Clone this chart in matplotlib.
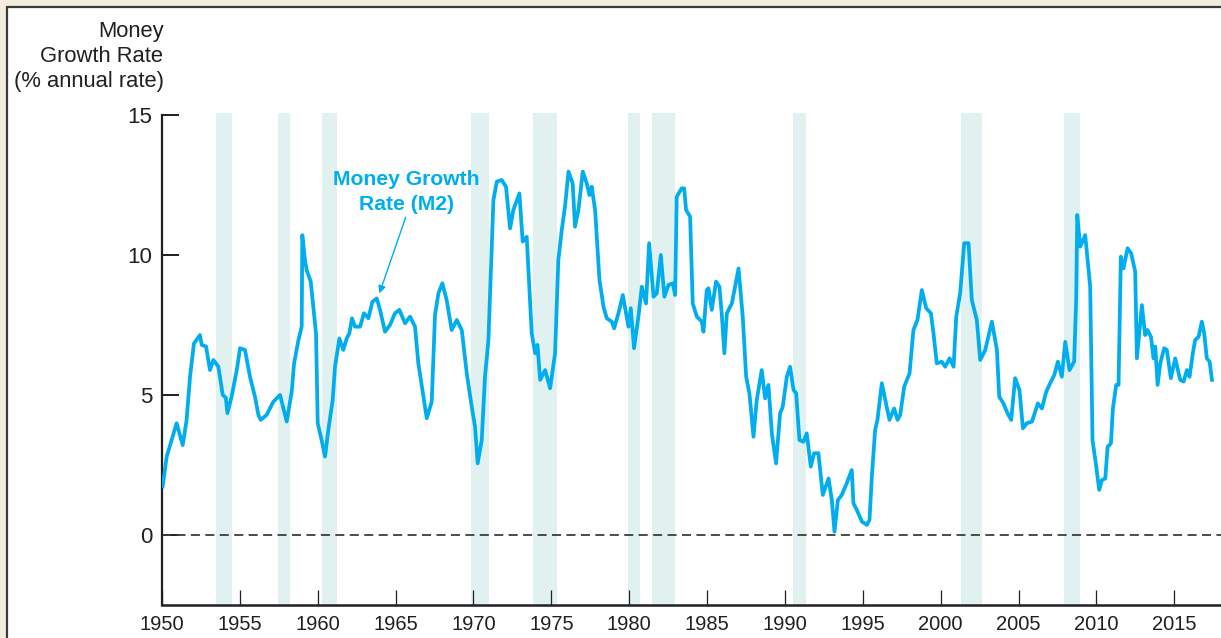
import matplotlib
matplotlib.use("Agg")
import matplotlib.pyplot as plt
from matplotlib.patches import Rectangle

# ---------------- data ----------------
years = [
    1950.04, 1950.30, 1950.62, 1950.94, 1951.33, 1951.58, 1951.80, 1952.05, 1952.44, 1952.55,
    1952.83, 1953.08, 1953.30, 1953.62, 1953.90, 1954.10, 1954.20, 1954.47, 1954.80, 1955.01,
    1955.33, 1955.65, 1955.97, 1956.19, 1956.34, 1956.72, 1957.15, 1957.58, 1957.69, 1958.01,
    1958.33, 1958.48, 1958.76, 1958.97, 1959.01, 1959.18, 1959.29, 1959.55, 1959.89, 1960.00,
    1960.25, 1960.47, 1960.68, 1960.96, 1961.11, 1961.39, 1961.64, 1961.86, 1962.03, 1962.20,
    1962.39, 1962.72, 1962.97, 1963.25, 1963.51, 1963.79, 1964.00, 1964.32, 1964.64, 1964.96,
    1965.24, 1965.61, 1965.93, 1966.25, 1966.46, 1966.79, 1967.00, 1967.32, 1967.53, 1967.75,
    1968.00, 1968.28, 1968.60, 1968.93, 1969.25, 1969.57, 1969.89, 1970.10, 1970.27, 1970.53,
    1970.74, 1970.96, 1971.28, 1971.50, 1971.81, 1972.09, 1972.35, 1972.56, 1972.95, 1973.16,
    1973.42, 1973.74, 1973.96, 1974.11, 1974.28, 1974.60, 1974.92, 1975.24,
    1975.45, 1975.67, 1975.88, 1976.10, 1976.37, 1976.52, 1976.74, 1977.02, 1977.27, 1977.45,
    1977.59, 1977.81, 1978.09, 1978.35, 1978.56, 1978.88, 1979.03, 1979.31, 1979.59, 1979.95,
    1980.10, 1980.31, 1980.59, 1980.81, 1981.08, 1981.28, 1981.56, 1981.77, 1982.03, 1982.26,
    1982.52, 1982.80, 1982.95, 1983.05, 1983.37, 1983.53, 1983.65, 1983.91, 1984.08, 1984.34,
    1984.66, 1984.77, 1984.98, 1985.09, 1985.30, 1985.58, 1985.79, 1985.94, 1986.11, 1986.27,
    1986.59, 1986.76, 1987.02, 1987.29, 1987.51, 1987.72, 1987.98, 1988.19, 1988.51, 1988.73,
    1988.94, 1989.16, 1989.43, 1989.69, 1989.86, 1990.12, 1990.33, 1990.55, 1990.72, 1990.93,
    1991.19, 1991.40, 1991.66, 1991.87, 1992.15, 1992.43, 1992.80, 1993.01, 1993.18, 1993.40,
    1993.65, 1993.97, 1994.29, 1994.40, 1994.62, 1994.94, 1995.26, 1995.43, 1995.58, 1995.79,
    1995.94, 1996.22, 1996.71, 1997.01, 1997.23,
    1997.40, 1997.66, 1998.00, 1998.25, 1998.51, 1998.79, 1999.07, 1999.37, 1999.54, 1999.75,
    2000.07, 2000.29, 2000.57, 2000.83, 2001.00, 2001.25, 2001.51, 2001.79, 2002.00, 2002.32,
    2002.54, 2002.86, 2003.29, 2003.61, 2003.76, 2004.03, 2004.29, 2004.53, 2004.78, 2005.06,
    2005.28, 2005.53, 2005.86, 2006.24, 2006.50, 2006.78, 2007.03, 2007.29, 2007.53, 2007.78,
    2008.00, 2008.27, 2008.57, 2008.70, 2008.77, 2008.96, 2009.28, 2009.60, 2009.75, 2009.99,
    2010.18, 2010.35, 2010.57, 2010.72, 2010.93, 2011.06, 2011.27, 2011.42, 2011.57, 2011.74,
    2012.00, 2012.23, 2012.49, 2012.60, 2012.75, 2012.92, 2013.13, 2013.28, 2013.50, 2013.67,
    2013.78, 2013.93, 2014.10, 2014.35, 2014.52, 2014.78, 2015.06, 2015.38, 2015.60, 2015.81,
    2015.98, 2016.19, 2016.34, 2016.56, 2016.77, 2016.92, 2017.09, 2017.27, 2017.42,
]
m2_growth = [
    1.73, 2.80, 3.39, 3.99, 3.21, 4.11, 5.65, 6.84, 7.14, 6.79,
    6.73, 5.89, 6.25, 6.01, 5.00, 4.90, 4.35, 4.94, 5.89, 6.67,
    6.61, 5.65, 4.94, 4.29, 4.11, 4.29, 4.76, 5.00, 4.76, 4.05,
    5.12, 6.13, 6.96, 7.44, 10.71, 9.82, 9.46, 9.05, 7.20, 3.99,
    3.39, 2.80, 3.75, 4.82, 6.01, 7.02, 6.61, 7.02, 7.20, 7.74,
    7.44, 7.44, 7.92, 7.74, 8.33, 8.45, 8.04, 7.26, 7.50, 7.92,
    8.04, 7.56, 7.80, 7.44, 6.13, 4.94, 4.17, 4.76, 7.86, 8.63,
    8.99, 8.39, 7.32, 7.68, 7.32, 5.77, 4.58, 3.87, 2.56, 3.39,
    5.65, 6.96, 11.96, 12.62, 12.68, 12.44, 10.95, 11.61, 12.20, 10.48,
    10.65, 7.20, 6.49, 6.79, 5.54, 5.89, 5.24, 6.49,
    9.82, 10.90, 11.73, 12.98, 12.56, 11.01, 11.61, 12.98, 12.56, 12.14,
    12.44, 11.61, 9.11, 8.15, 7.74, 7.62, 7.38, 7.92, 8.57, 7.44,
    8.10, 6.67, 7.80, 8.87, 8.27, 10.42, 8.51, 8.63, 10.00, 8.51,
    8.93, 8.99, 8.57, 12.08, 12.38, 12.38, 11.61, 11.37, 8.27, 7.80,
    7.62, 7.26, 8.75, 8.81, 8.04, 9.05, 8.87, 7.92, 6.49, 7.92,
    8.27, 8.75, 9.52, 7.80, 5.65, 5.06, 3.51, 4.82, 5.89, 4.88,
    5.36, 3.63, 2.56, 4.35, 4.58, 5.65, 6.01, 5.18, 5.06, 3.39,
    3.33, 3.63, 2.44, 2.92, 2.92, 1.43, 2.02, 1.25, 0.12, 1.25,
    1.43, 1.85, 2.32, 1.13, 0.89, 0.48, 0.36, 0.54, 2.08, 3.75,
    4.11, 5.42, 4.11, 4.52, 4.11,
    4.29, 5.30, 5.77, 7.32, 7.68, 8.75, 8.10, 7.92, 7.20, 6.13,
    6.19, 6.01, 6.31, 6.01, 7.80, 8.63, 10.42, 10.42, 8.39, 7.68,
    6.25, 6.61, 7.62, 6.61, 4.94, 4.70, 4.35, 4.11, 5.60, 5.18,
    3.81, 3.99, 4.05, 4.70, 4.52, 5.12, 5.42, 5.71, 6.19, 5.65,
    6.90, 5.89, 6.19, 8.39, 11.43, 10.30, 10.71, 8.87, 3.39, 2.44,
    1.61, 1.96, 2.02, 3.15, 3.27, 4.52, 5.36, 5.36, 9.94, 9.52,
    10.24, 10.06, 9.41, 6.31, 7.20, 8.21, 7.14, 7.32, 7.08, 6.31,
    6.73, 5.36, 6.13, 6.67, 6.61, 5.60, 6.31, 5.54, 5.48, 5.89,
    5.65, 6.49, 6.96, 7.08, 7.62, 7.20, 6.31, 6.19, 5.54,
]
recession_starts = [1953.47, 1957.45, 1960.28, 1969.85, 1973.85, 1979.93, 1981.47, 1990.53, 2001.30, 2007.93]
recession_ends   = [1954.47, 1958.25, 1961.24, 1971.00, 1975.37, 1980.68, 1982.97, 1991.35, 2002.63, 2008.96]
x_ticks = list(range(1950, 2020, 5))
y_ticks = [0, 5, 10, 15]
y_label_lines = ["Money", "Growth Rate", "(% annual rate)"]
series_label = ["Money Growth", "Rate (M2)"]

# ---------------- style ----------------
W, H = 1221, 638
LINE = "#00AEEF"
SHADE = "#E0F1EF"
DARK = "#231F20"
BEIGE = "#F4ECDD"
FONT = "Liberation Sans"

plt.rcParams["font.family"] = [FONT, "DejaVu Sans"]

fig = plt.figure(figsize=(W / 100, H / 100), dpi=100, facecolor=BEIGE)

# white panel with dark border (extends beyond right/bottom edges)
panel = Rectangle((6.5 / W, -0.2), 2.0, 1 - 6.5 / H + 0.2, transform=fig.transFigure,
                  facecolor="white", edgecolor="#3a3a3a", linewidth=1.6, zorder=-10)
fig.patches.append(panel)

left = 162 / W
bottom = 1 - 605 / H
top = 1 - 115 / H
ax = fig.add_axes([left, bottom, 1 - left, top - bottom])
ax.set_facecolor("none")
ax.set_zorder(5)

ax.set_xlim(1950, 2018)
ax.set_ylim(-2.5, 15)

for s, e in zip(recession_starts, recession_ends):
    ax.axvspan(s, e, ymin=0, ymax=1.004, color=SHADE, lw=0, zorder=1, clip_on=False)

ax.axhline(0, color="#3d3d3d", lw=1.3, dashes=(5, 3), zorder=2)
ax.plot(years, m2_growth, color=LINE, lw=2.7, zorder=3, solid_joinstyle="round")

# spines
for side in ("top", "right"):
    ax.spines[side].set_visible(False)
ax.spines["left"].set_color(DARK)
ax.spines["bottom"].set_color(DARK)
ax.spines["left"].set_linewidth(1.6)
ax.spines["bottom"].set_linewidth(1.8)
ax.spines["left"].set_bounds(-2.5, 15)

ax.set_xticks(x_ticks)
ax.set_xticklabels([str(t) for t in x_ticks])
ax.set_yticks(y_ticks)
ax.set_yticklabels([str(t) for t in y_ticks])
ax.tick_params(axis="x", direction="in", length=11, width=0.9, color=DARK,
               labelsize=14.5, labelcolor=DARK, pad=7)
ax.tick_params(axis="y", direction="in", length=12, width=1.4, color=DARK,
               labelsize=16, labelcolor=DARK, pad=7)

# y-axis title (three right-aligned lines)
for txt, ybase in zip(y_label_lines, [37.5, 62, 86.5]):
    fig.text(163.5 / W, 1 - ybase / H, txt, ha="right", va="baseline",
             fontsize=15.8, color=DARK)

# series annotation
ax.text(1965.67, 12.5, series_label[0], ha="center", va="baseline",
        fontsize=15.2, fontweight="bold", color=LINE, zorder=4)
ax.text(1965.67, 11.61, series_label[1], ha="center", va="baseline",
        fontsize=15.2, fontweight="bold", color=LINE, zorder=4)
ax.annotate("", xy=(1963.96, 8.63), xytext=(1965.65, 11.35),
            arrowprops=dict(arrowstyle="-|>", color=LINE, lw=1.0,
                            mutation_scale=11, shrinkA=0, shrinkB=0), zorder=4)

fig.savefig("out.png", dpi=100, facecolor=BEIGE)
